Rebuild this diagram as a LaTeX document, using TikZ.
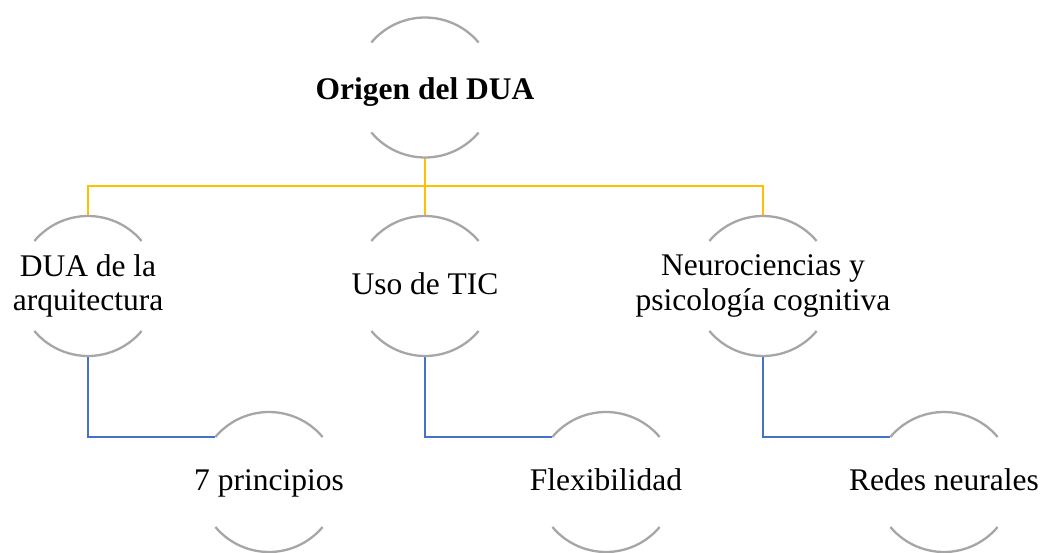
\documentclass[tikz,border=0pt]{standalone}
\usepackage{fontspec}
\setmainfont{Liberation Serif}

\definecolor{ringgray}{HTML}{A6A6A6}
\definecolor{linegold}{HTML}{FFC000}
\definecolor{lineblue}{HTML}{4472C4}

\begin{document}
\begin{tikzpicture}[x=1pt, y=1pt]
    \def\R{70pt}
    \def\bodyfont{\fontsize{31.5}{34.5}\selectfont}

    \tikzset{
        hub/.style={circle, minimum size=140pt, inner sep=0pt, outer sep=0pt},
        every label/.style={align=center, font=\bodyfont},
        oneline/.style={text height=23.6pt, text depth=6.3pt},
        ring/.style={draw=ringgray, line width=2.3pt},
        upper/.style={draw=linegold, line width=2.5pt},
        lower/.style={draw=lineblue, line width=2.5pt}
    }

    \useasboundingbox (0, 0) rectangle (1042, 552);

    \node [hub, label={[font=\bodyfont\bfseries, text height=23.6pt, text depth=0pt]center:Origen del DUA}] (root) at (425, 464.5) {};

    \node [hub, label={center:DUA de la\\arquitectura}] (arq) at (88, 266) {};
    \node [hub, label={[oneline]center:Uso de TIC}] (tic) at (425, 266) {};
    \node [hub, label={center:Neurociencias y\\psicología cognitiva}] (neuro) at (763, 266) {};

    \node [hub, label={[oneline]center:7 principios}] (princ) at (269, 70) {};
    \node [hub, label={[oneline]center:Flexibilidad}] (flex) at (606, 70) {};
    \node [hub, label={[oneline]center:Redes neurales}] (redes) at (944, 70) {};

    \coordinate (split) at (425, 366);

    \draw [upper] (root.south) -- (split) -| (arq.north);
    \draw [upper] (split) -| (neuro.north);
    \draw [upper] (split) -- (tic.north);

    \draw [lower] (arq.south) |- (princ.140);
    \draw [lower] (tic.south) |- (flex.140);
    \draw [lower] (neuro.south) |- (redes.140);

    \foreach \n in {root, arq, tic, neuro, princ, flex, redes} {
        \draw [ring] (\n.40) arc [start angle=40, end angle=140, radius=\R];
        \draw [ring] (\n.220) arc [start angle=220, end angle=320, radius=\R];
    }
\end{tikzpicture}
\end{document}
